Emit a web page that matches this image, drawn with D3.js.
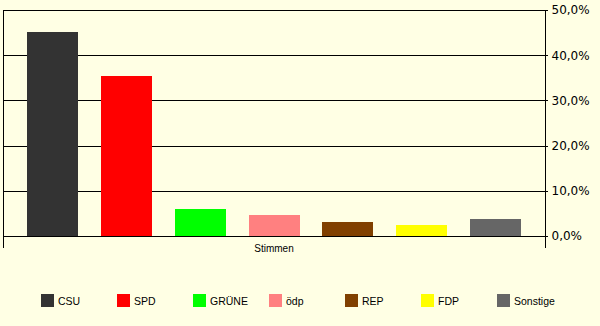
<!DOCTYPE html>
<html>
<head>
<meta charset="utf-8">
<script src="https://cdn.jsdelivr.net/npm/d3@7"></script>
<style>
  body { margin: 0; background: #ffffe4; }
  svg { display: block; }
  text { font-family: "Liberation Sans", Arial, sans-serif; fill: #000; }
</style>
</head>
<body>
<div id="chart"></div>
<script>
// Stimmenanteile (Prozent) je Partei
const parties = ["CSU", "SPD", "GRÜNE", "ödp", "REP", "FDP", "Sonstige"];
const shares = [45.1, 35.4, 6.0, 4.6, 3.1, 2.4, 3.8];
const colors = ["#333333", "#ff0000", "#00ff00", "#ff8080", "#804000", "#ffff00", "#666666"];
const yTicks = [0, 10, 20, 30, 40, 50];
const categoryLabel = "Stimmen";

const W = 600, H = 326;
const plot = {left: 3, right: 545, top: 10, bottom: 236};

const svg = d3.select("#chart").append("svg")
    .attr("width", W)
    .attr("height", H);

svg.append("rect")
    .attr("width", W).attr("height", H)
    .style("fill", "#ffffe4");

var y = d3.scaleLinear()
    .domain([0, 50])
    .range([plot.bottom, plot.top]);

var x = d3.scaleBand()
    .domain(parties)
    .range([plot.left, plot.right])
    .paddingInner(0.311)
    .paddingOuter(0.324);

// gridlines
svg.append("g")
    .attr("class", "grid")
    .selectAll("line")
    .data(yTicks)
    .join("line")
    .attr("x1", plot.left)
    .attr("x2", plot.right + 3)
    .attr("y1", d => Math.round(y(d)) + 0.5)
    .attr("y2", d => Math.round(y(d)) + 0.5)
    .style("stroke", "#000")
    .style("stroke-width", 1);

// bars
svg.append("g")
    .selectAll("rect")
    .data(parties)
    .join("rect")
    .attr("x", d => Math.round(x(d)))
    .attr("y", (d, i) => Math.round(y(shares[i])))
    .attr("width", Math.round(x.bandwidth()))
    .attr("height", (d, i) => Math.round(y(0)) - Math.round(y(shares[i])))
    .style("fill", (d, i) => colors[i]);

// baseline on top of bars
svg.append("line")
    .attr("x1", plot.left).attr("x2", plot.right + 3)
    .attr("y1", Math.round(y(0)) + 0.5).attr("y2", Math.round(y(0)) + 0.5)
    .style("stroke", "#000");

// frame verticals (extend below as category ticks)
[plot.left, plot.right].forEach(function(px){
    svg.append("line")
        .attr("x1", px + 0.5).attr("x2", px + 0.5)
        .attr("y1", plot.top).attr("y2", 248)
        .style("stroke", "#000");
});

// right value axis
var yAxis = d3.axisRight(y)
    .tickValues(yTicks)
    .tickSize(0)
    .tickPadding(6)
    .tickFormat(d => d3.format(".1f")(d).replace(".", ",") + "%");

var ax = svg.append("g")
    .attr("transform", "translate(" + (plot.right + 0.5) + ",0)")
    .call(yAxis);
ax.select(".domain").remove();
ax.selectAll("text")
    .style("font-family", "'DejaVu Sans', Verdana, sans-serif")
    .style("font-size", "12px")
    .attr("x", 6);

// category label
svg.append("text")
    .attr("x", (plot.left + plot.right) / 2)
    .attr("y", 252)
    .attr("text-anchor", "middle")
    .style("font-size", "10px")
    .text(categoryLabel);

// legend
var legend = svg.append("g")
    .selectAll("g")
    .data(parties)
    .join("g")
    .attr("transform", (d, i) => "translate(" + (41 + i * 76) + ",294)");

legend.append("rect")
    .attr("width", 13).attr("height", 13)
    .style("fill", (d, i) => colors[i]);

legend.append("text")
    .attr("x", 17)
    .attr("y", 11)
    .style("font-size", "10.5px")
    .text(d => d);
</script>
</body>
</html>
